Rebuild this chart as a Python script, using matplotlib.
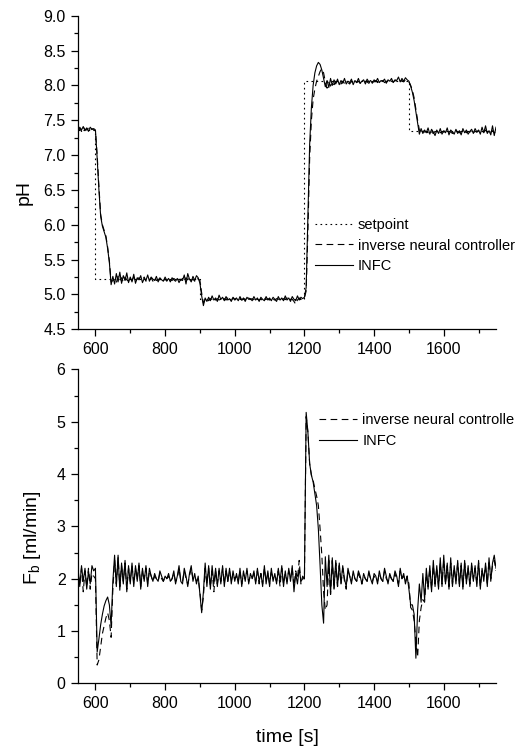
import numpy as np
import matplotlib
matplotlib.use("Agg")
import matplotlib.pyplot as plt
from matplotlib.ticker import MultipleLocator, FormatStrFormatter

plt.rcParams["font.family"] = ["Liberation Sans", "DejaVu Sans"]
plt.rcParams["mathtext.fontset"] = "custom"
plt.rcParams["mathtext.rm"] = "Liberation Sans"

# sampling grid of the recorded signals (every 5 s)
TIME = list(range(550, 1751, 5))

# pH setpoint (step changes)
SP_TIMES  = [550, 600, 900, 1200, 1500, 1750]
SP_VALUES = [7.36, 5.22, 4.93, 8.06, 7.34, 7.34]

PH_INFC = [
    7.33, 7.40, 7.36, 7.41, 7.35, 7.39, 7.34, 7.40, 7.37, 7.38,   # 550
    7.36, 6.95, 6.50, 6.12, 5.98, 5.90, 5.82, 5.66, 5.46, 5.14,   # 600
    5.26, 5.15, 5.30, 5.18, 5.32, 5.16, 5.27, 5.20, 5.31, 5.17,   # 650
    5.25, 5.18, 5.29, 5.16, 5.24, 5.21, 5.27, 5.17, 5.23, 5.20,   # 700
    5.28, 5.19, 5.25, 5.22, 5.20, 5.26, 5.18, 5.24, 5.21, 5.19,   # 750
    5.25, 5.20, 5.23, 5.18, 5.24, 5.21, 5.19, 5.23, 5.17, 5.22,   # 800
    5.20, 5.28, 5.15, 5.30, 5.22, 5.18, 5.26, 5.20, 5.27, 5.24,   # 850
    5.16, 4.98, 4.84, 4.95, 4.90, 4.96, 4.91, 4.98, 4.92, 4.95,   # 900
    4.90, 4.99, 4.93, 4.96, 4.91, 4.97, 4.92, 4.94, 4.90, 4.96,   # 950
    4.93, 4.95, 4.91, 4.97, 4.92, 4.95, 4.90, 4.96, 4.93, 4.94,   # 1000
    4.91, 4.97, 4.92, 4.95, 4.90, 4.96, 4.93, 4.91, 4.97, 4.92,   # 1050
    4.95, 4.91, 4.96, 4.93, 4.90, 4.97, 4.92, 4.95, 4.91, 4.98,   # 1100
    4.92, 4.95, 4.90, 4.97, 4.93, 4.91, 4.98, 4.92, 4.96, 4.94,   # 1150
    4.96, 5.10, 6.10, 7.15, 7.68, 8.00, 8.18, 8.28, 8.33, 8.30,   # 1200
    8.22, 8.10, 7.98, 8.07, 7.97, 8.10, 8.00, 8.08, 8.02, 8.09,   # 1250
    8.01, 8.07, 8.03, 8.10, 8.02, 8.06, 8.04, 8.09, 8.01, 8.07,   # 1300
    8.04, 8.10, 8.03, 8.06, 8.08, 8.02, 8.09, 8.05, 8.07, 8.03,   # 1350
    8.08, 8.05, 8.10, 8.04, 8.07, 8.06, 8.09, 8.03, 8.08, 8.06,   # 1400
    8.10, 8.04, 8.08, 8.07, 8.12, 8.05, 8.10, 8.06, 8.11, 8.08,   # 1450
    8.06, 7.99, 7.90, 7.78, 7.62, 7.45, 7.30, 7.38, 7.31, 7.36,   # 1500
    7.32, 7.39, 7.30, 7.37, 7.33, 7.28, 7.36, 7.31, 7.38, 7.30,   # 1550
    7.35, 7.32, 7.39, 7.29, 7.36, 7.33, 7.30, 7.37, 7.31, 7.35,   # 1600
    7.29, 7.38, 7.32, 7.36, 7.30, 7.34, 7.37, 7.31, 7.38, 7.33,   # 1650
    7.36, 7.30, 7.40, 7.32, 7.42, 7.31, 7.35, 7.29, 7.42, 7.28,   # 1700
    7.40,
]

PH_INV = [
    7.35, 7.38, 7.34, 7.40, 7.37, 7.36, 7.39, 7.35, 7.38, 7.36,   # 550
    7.35, 7.00, 6.55, 6.15, 6.00, 5.92, 5.84, 5.68, 5.48, 5.18,   # 600
    5.20, 5.22, 5.17, 5.26, 5.20, 5.24, 5.18, 5.25, 5.21, 5.19,   # 650
    5.23, 5.20, 5.25, 5.19, 5.22, 5.24, 5.20, 5.21, 5.25, 5.19,   # 700
    5.22, 5.21, 5.24, 5.19, 5.23, 5.20, 5.22, 5.21, 5.24, 5.20,   # 750
    5.22, 5.19, 5.24, 5.21, 5.20, 5.23, 5.21, 5.19, 5.22, 5.20,   # 800
    5.23, 5.19, 5.24, 5.21, 5.25, 5.20, 5.22, 5.19, 5.24, 5.22,   # 850
    5.20, 5.02, 4.88, 4.92, 4.95, 4.91, 4.94, 4.93, 4.96, 4.92,   # 900
    4.94, 4.92, 4.95, 4.93, 4.94, 4.92, 4.95, 4.93, 4.92, 4.95,   # 950
    4.92, 4.94, 4.93, 4.95, 4.92, 4.93, 4.94, 4.92, 4.95, 4.93,   # 1000
    4.94, 4.92, 4.95, 4.93, 4.92, 4.94, 4.91, 4.95, 4.93, 4.94,   # 1050
    4.92, 4.95, 4.93, 4.92, 4.94, 4.93, 4.95, 4.92, 4.94, 4.93,   # 1100
    4.95, 4.92, 4.94, 4.93, 4.90, 4.86, 4.92, 4.95, 4.93, 4.94,   # 1150
    4.95, 5.05, 5.90, 6.95, 7.50, 7.80, 7.95, 8.06, 8.13, 8.20,   # 1200
    8.24, 8.18, 8.05, 7.96, 8.04, 7.99, 8.05, 8.01, 8.06, 8.03,   # 1250
    8.04, 8.02, 8.06, 8.03, 8.05, 8.04, 8.02, 8.06, 8.03, 8.05,   # 1300
    8.04, 8.06, 8.03, 8.05, 8.04, 8.06, 8.05, 8.03, 8.06, 8.04,   # 1350
    8.05, 8.07, 8.04, 8.06, 8.05, 8.07, 8.04, 8.06, 8.05, 8.07,   # 1400
    8.06, 8.05, 8.07, 8.06, 8.08, 8.06, 8.07, 8.05, 8.08, 8.06,   # 1450
    8.05, 8.00, 7.93, 7.82, 7.66, 7.50, 7.36, 7.32, 7.35, 7.33,   # 1500
    7.34, 7.32, 7.35, 7.33, 7.31, 7.34, 7.33, 7.35, 7.32, 7.34,   # 1550
    7.33, 7.35, 7.32, 7.34, 7.33, 7.31, 7.35, 7.33, 7.34, 7.32,   # 1600
    7.34, 7.33, 7.35, 7.32, 7.34, 7.33, 7.35, 7.32, 7.34, 7.33,   # 1650
    7.35, 7.32, 7.34, 7.33, 7.36, 7.32, 7.34, 7.33, 7.35, 7.32,   # 1700
    7.34,
]

FB_INFC = [
    2.20, 1.85, 2.25, 1.95, 2.20, 1.80, 2.15, 1.90, 2.25, 2.15,   # 550
    2.20, 0.60, 0.85, 1.12, 1.32, 1.48, 1.58, 1.65, 1.50, 1.10,   # 600
    1.95, 2.45, 1.85, 2.45, 1.78, 2.30, 1.90, 2.35, 1.75, 2.25,   # 650
    1.90, 2.30, 1.85, 2.25, 1.95, 2.30, 1.80, 2.20, 1.95, 2.25,   # 700
    1.85, 2.20, 2.05, 1.95, 2.10, 2.00, 1.95, 2.15, 2.05, 1.95,   # 750
    2.05, 2.00, 2.10, 1.95, 2.00, 2.15, 1.90, 2.05, 2.25, 1.95,   # 800
    1.90, 2.20, 2.05, 1.85, 2.10, 2.25, 1.95, 2.10, 1.90, 2.05,   # 850
    1.70, 1.35, 1.75, 2.30, 1.85, 2.25, 1.80, 2.25, 1.90, 2.20,   # 900
    1.85, 2.20, 1.90, 2.25, 1.85, 2.20, 1.95, 2.20, 1.90, 2.15,   # 950
    1.95, 2.10, 1.90, 2.20, 1.85, 2.15, 1.95, 2.20, 1.90, 2.10,   # 1000
    2.00, 2.15, 1.90, 2.20, 1.95, 2.10, 1.85, 2.25, 1.90, 2.15,   # 1050
    1.85, 2.20, 1.95, 2.10, 1.90, 2.20, 1.95, 2.25, 1.85, 2.15,   # 1100
    1.90, 2.20, 1.95, 2.25, 1.75, 2.10, 1.90, 2.20, 1.95, 2.00,   # 1150
    2.00, 5.18, 4.80, 4.20, 3.98, 3.85, 3.62, 3.40, 2.95, 2.25,   # 1200
    1.50, 1.15, 2.42, 1.85, 2.45, 1.70, 2.40, 1.80, 2.35, 1.85,   # 1250
    2.30, 1.90, 2.25, 2.00, 1.85, 2.20, 2.05, 1.90, 2.15, 2.00,   # 1300
    1.95, 2.15, 2.05, 1.90, 2.10, 2.00, 1.95, 2.15, 2.00, 1.90,   # 1350
    2.10, 2.05, 1.90, 2.15, 2.00, 1.95, 2.20, 2.05, 1.90, 2.10,   # 1400
    2.00, 1.95, 2.15, 2.05, 1.85, 2.20, 2.00, 2.10, 1.90, 2.05,   # 1450
    1.80, 1.50, 1.50, 1.32, 0.48, 1.40, 1.90, 1.55, 2.10, 1.60,   # 1500
    2.20, 1.80, 2.25, 1.75, 2.35, 1.85, 2.25, 1.80, 2.40, 1.85,   # 1550
    2.45, 1.90, 2.30, 1.80, 2.40, 1.85, 2.25, 1.90, 2.35, 1.85,   # 1600
    2.30, 1.80, 2.35, 1.90, 2.25, 1.85, 2.30, 1.95, 2.25, 1.85,   # 1650
    2.35, 1.80, 2.20, 1.95, 2.30, 1.85, 2.40, 1.95, 2.30, 2.45,   # 1700
    2.20,
]

FB_INV = [
    2.10, 1.90, 2.20, 1.75, 2.15, 1.85, 2.20, 1.80, 2.10, 2.05,   # 550
    2.00, 0.35, 0.45, 0.70, 0.95, 1.10, 1.25, 1.35, 1.20, 0.88,   # 600
    1.80, 2.35, 1.90, 2.40, 1.85, 2.25, 1.95, 2.30, 1.80, 2.20,   # 650
    1.95, 2.25, 1.90, 2.20, 2.00, 2.25, 1.85, 2.15, 2.00, 2.20,   # 700
    1.90, 2.15, 2.05, 1.95, 2.05, 2.00, 1.95, 2.10, 2.00, 1.95,   # 750
    2.05, 2.00, 2.05, 1.95, 2.00, 2.10, 1.95, 2.00, 2.20, 1.95,   # 800
    1.95, 2.15, 2.00, 1.90, 2.05, 2.20, 2.00, 2.05, 1.95, 2.00,   # 850
    1.75, 1.40, 1.65, 2.20, 1.90, 2.20, 1.85, 2.15, 1.75, 2.15,   # 900
    1.90, 2.15, 1.95, 2.20, 1.90, 2.15, 1.95, 2.15, 1.95, 2.10,   # 950
    2.00, 2.05, 1.95, 2.15, 1.90, 2.10, 2.00, 2.15, 1.95, 2.05,   # 1000
    2.00, 2.10, 1.95, 2.15, 1.90, 2.10, 1.90, 2.20, 1.95, 2.10,   # 1050
    1.90, 2.15, 2.00, 2.05, 1.95, 2.15, 1.85, 2.20, 1.90, 2.10,   # 1100
    1.95, 2.15, 2.00, 2.20, 1.85, 2.15, 2.00, 2.35, 1.90, 2.05,   # 1150
    2.00, 5.10, 4.80, 4.20, 3.98, 3.88, 3.72, 3.58, 3.40, 2.95,   # 1200
    2.45, 1.75, 1.40, 1.50, 2.35, 1.70, 2.35, 1.80, 2.30, 1.85,   # 1250
    2.25, 1.90, 2.20, 1.95, 1.80, 2.15, 2.05, 1.95, 2.10, 2.00,   # 1300
    1.95, 2.10, 2.00, 1.90, 2.05, 2.00, 1.95, 2.10, 2.00, 1.95,   # 1350
    2.05, 2.00, 1.95, 2.10, 2.00, 1.95, 2.15, 2.00, 1.95, 2.05,   # 1400
    2.00, 1.95, 2.10, 2.00, 1.90, 2.15, 2.00, 2.05, 1.95, 2.05,   # 1450
    1.90, 1.45, 1.40, 1.20, 0.80, 0.50, 1.20, 1.45, 1.60, 1.55,   # 1500
    2.10, 1.85, 2.20, 1.80, 2.25, 1.90, 2.20, 1.85, 2.30, 1.90,   # 1550
    2.35, 1.90, 2.25, 1.85, 2.30, 1.90, 2.20, 1.95, 2.30, 1.90,   # 1600
    2.25, 1.85, 2.30, 1.95, 2.20, 1.90, 2.25, 2.00, 2.20, 1.90,   # 1650
    2.30, 1.85, 2.15, 2.00, 2.25, 1.90, 2.35, 2.00, 2.25, 2.35,   # 1700
    2.15,
]

for series in (PH_INFC, PH_INV, FB_INFC, FB_INV):
    assert len(series) == len(TIME)

LW = 0.8
DOTTED = (1.5, 3)
DASHED = (6, 4)


def style_axes(ax, ymin, ymax, major, minor):
    ax.set_xlim(550, 1750)
    ax.set_ylim(ymin, ymax)
    ax.xaxis.set_major_locator(MultipleLocator(200))
    ax.xaxis.set_minor_locator(MultipleLocator(100))
    ax.yaxis.set_major_locator(MultipleLocator(major))
    ax.yaxis.set_minor_locator(MultipleLocator(minor))
    ax.spines["top"].set_visible(False)
    ax.spines["right"].set_visible(False)
    for s in ("left", "bottom"):
        ax.spines[s].set_linewidth(0.9)
    ax.tick_params(which="major", direction="out", length=5, width=0.9,
                   labelsize=11.5, pad=4)
    ax.tick_params(which="minor", direction="out", length=3, width=0.9)


fig = plt.figure(figsize=(5.15, 7.51), dpi=100)
ax1 = fig.add_axes([0.1515, 0.5615, 0.8116, 0.4176])
ax2 = fig.add_axes([0.1515, 0.0901, 0.8116, 0.4179])

# --- pH panel
ax1.step(SP_TIMES, SP_VALUES, where="post", color="black", lw=LW,
         dashes=DOTTED, label="setpoint")
ax1.plot(TIME, PH_INV, color="black", lw=LW, dashes=DASHED,
         label="inverse neural controller")
ax1.plot(TIME, PH_INFC, color="black", lw=LW, label="INFC")
style_axes(ax1, 4.5, 9.0, 0.5, 0.25)
ax1.yaxis.set_major_formatter(FormatStrFormatter("%.1f"))
ax1.set_ylabel("pH", fontsize=14)
ax1.yaxis.set_label_coords(-0.108, 0.435)
ax1.legend(loc="upper left", bbox_to_anchor=(0.567, 0.355), frameon=False,
           fontsize=10.5, handlelength=2.6, handletextpad=0.35,
           labelspacing=0.45, borderpad=0, borderaxespad=0)

# --- base flow panel
ax2.plot(TIME, FB_INV, color="black", lw=LW, dashes=DASHED,
         label="inverse neural controller")
ax2.plot(TIME, FB_INFC, color="black", lw=LW, label="INFC")
style_axes(ax2, 0, 6, 1, 0.5)
ax2.set_ylabel(r"F$_\mathregular{b}$ [ml/min]", fontsize=14)
ax2.yaxis.set_label_coords(-0.084, 0.465)
ax2.set_xlabel("time [s]", fontsize=14, labelpad=13)
ax2.legend(loc="upper left", bbox_to_anchor=(0.577, 0.86), frameon=False,
           fontsize=10.5, handlelength=2.6, handletextpad=0.35,
           labelspacing=0.45, borderpad=0, borderaxespad=0)

fig.savefig("out.png", dpi=100)
